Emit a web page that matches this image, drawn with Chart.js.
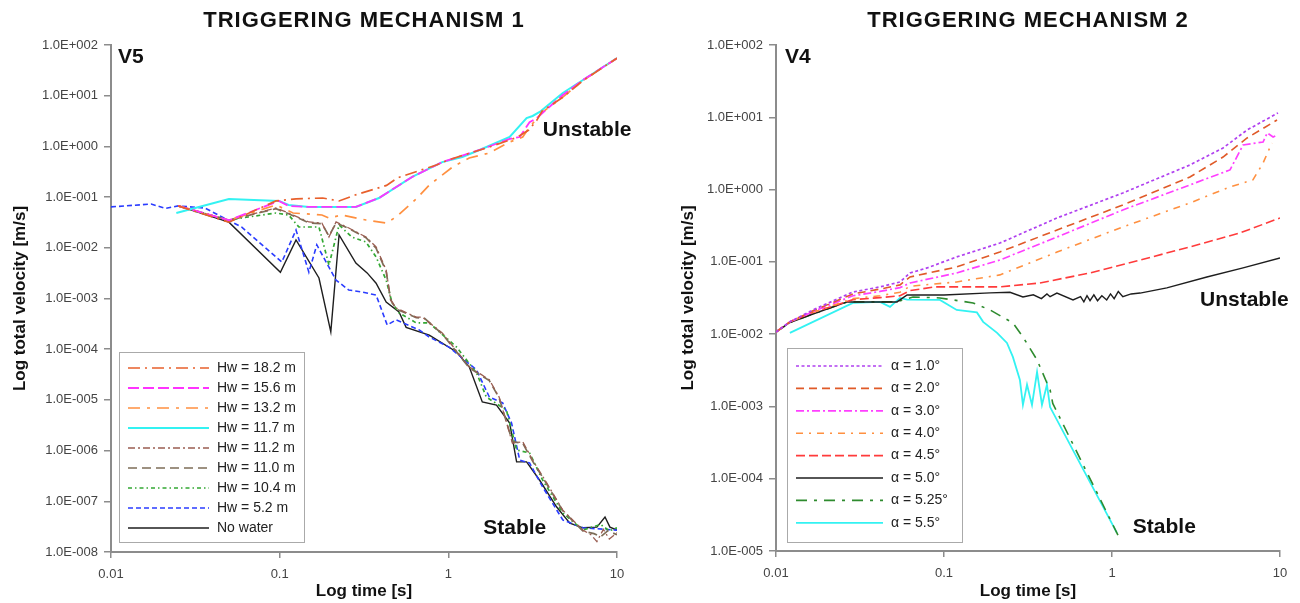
<!DOCTYPE html>
<html lang="en">
<head>
  <meta charset="UTF-8">
  <title>Triggering mechanisms</title>
  <script src="https://cdn.jsdelivr.net/npm/chart.js"></script>
  <style>
    body {
      margin: 0;
      background: #fff;
      font-family: Arial, "Liberation Sans", sans-serif;
    }
    .panel {
      position: absolute;
      top: 0;
      width: 650px;
      height: 603px;
    }
    #left { left: 0; }
    #right { left: 650px; }
  </style>
</head>
<body>
  <div class="panel" id="left"><canvas id="chart1"></canvas></div>
  <div class="panel" id="right"><canvas id="chart2"></canvas></div>

  <script>
    // ---- axis ticks ----
    const timeTicks = [0.01, 0.1, 1, 10];
    const timeLabels = ['0.01', '0.1', '1', '10'];
    const velTicks1 = [1e2, 1e1, 1e0, 1e-1, 1e-2, 1e-3, 1e-4, 1e-5, 1e-6, 1e-7, 1e-8];
    const velLabels1 = ['1.0E+002', '1.0E+001', '1.0E+000', '1.0E-001', '1.0E-002', '1.0E-003',
      '1.0E-004', '1.0E-005', '1.0E-006', '1.0E-007', '1.0E-008'];
    const velTicks2 = [1e2, 1e1, 1e0, 1e-1, 1e-2, 1e-3, 1e-4, 1e-5];
    const velLabels2 = ['1.0E+002', '1.0E+001', '1.0E+000', '1.0E-001', '1.0E-002', '1.0E-003',
      '1.0E-004', '1.0E-005'];

    // ---- mechanism 1 (V5), water level Hw ----
    const hw182Time = [0.025, 0.05, 0.095, 0.125, 0.18, 0.225, 0.28, 0.43, 0.5, 0.85, 1.0, 1.75, 2.55, 3.0, 3.35, 3.6, 4.8, 6.3, 10];
    const hw182Vel = [0.067, 0.032, 0.084, 0.092, 0.096, 0.084, 0.11, 0.17, 0.24, 0.43, 0.54, 0.97, 1.5, 2.1, 3.3, 5.0, 9.4, 20, 55];

    const hw156Time = [0.025, 0.05, 0.099, 0.113, 0.149, 0.283, 0.388, 0.61, 0.92, 1.53, 2.31, 2.65, 3.03, 3.34, 4.77, 6.28, 10];
    const hw156Vel = [0.067, 0.035, 0.084, 0.067, 0.064, 0.064, 0.096, 0.25, 0.49, 0.85, 1.4, 1.53, 3.0, 3.6, 10.3, 20.4, 55];

    const hw132Time = [0.025, 0.05, 0.095, 0.12, 0.178, 0.196, 0.234, 0.325, 0.428, 0.49, 0.645, 0.771, 1.06, 1.33, 1.75, 2.31, 2.76, 3.03, 3.63, 4.77, 6.28, 10];
    const hw132Vel = [0.067, 0.035, 0.070, 0.0485, 0.0444, 0.0387, 0.0444, 0.0353, 0.0308, 0.0405, 0.092, 0.173, 0.393, 0.59, 0.74, 1.22, 1.53, 2.41, 4.78, 9.4, 20, 55];

    const hw117Time = [0.0244, 0.05, 0.099, 0.113, 0.149, 0.283, 0.388, 0.61, 0.92, 1.21, 1.53, 2.31, 2.91, 3.16, 3.48, 4.77, 6.28, 10];
    const hw117Vel = [0.0485, 0.092, 0.084, 0.070, 0.064, 0.064, 0.096, 0.25, 0.49, 0.62, 0.85, 1.53, 3.63, 3.98, 4.78, 11.3, 20.4, 55];

    const hw112Time = [0.025, 0.05, 0.095, 0.113, 0.149, 0.178, 0.196, 0.216, 0.257, 0.325, 0.373, 0.428, 0.455, 0.49, 0.645, 0.70, 0.92, 1.33, 1.75, 2.0, 2.4, 2.76, 3.16, 3.83, 4.77, 6.28, 7.0, 7.6, 8.3, 9.0, 10];
    const hw112Vel = [0.067, 0.035, 0.061, 0.0485, 0.0323, 0.0308, 0.0163, 0.0323, 0.0246, 0.0163, 0.0104, 0.00365, 0.00093, 0.00065, 0.00043, 0.00043, 0.00021, 4.5e-5, 2.5e-5, 1.14e-5, 1.4e-6, 1.5e-6, 6.5e-7, 2.3e-7, 6.7e-8, 2.7e-8, 2.2e-8, 1.6e-8, 2.8e-8, 1.8e-8, 2.4e-8];

    const hw110Time = [0.025, 0.05, 0.095, 0.113, 0.149, 0.178, 0.196, 0.216, 0.257, 0.325, 0.373, 0.428, 0.455, 0.49, 0.645, 0.72, 0.92, 1.33, 1.75, 2.0, 2.4, 2.76, 3.16, 3.83, 4.77, 6.28, 7.3, 8.0, 8.8, 10];
    const hw110Vel = [0.067, 0.035, 0.059, 0.047, 0.031, 0.030, 0.017, 0.031, 0.024, 0.0158, 0.0098, 0.0034, 0.00095, 0.00062, 0.00042, 0.00041, 0.00020, 4.3e-5, 2.4e-5, 1.1e-5, 1.5e-6, 1.4e-6, 6.2e-7, 2.2e-7, 6.5e-8, 2.6e-8, 2.3e-8, 2.0e-8, 2.6e-8, 2.2e-8];

    const hw104Time = [0.025, 0.05, 0.065, 0.095, 0.113, 0.13, 0.171, 0.196, 0.225, 0.268, 0.325, 0.373, 0.428, 0.464, 0.51, 0.645, 0.77, 1.12, 1.47, 1.68, 2.21, 2.54, 3.03, 3.63, 4.77, 6.28, 8.0, 9.0, 10];
    const hw104Vel = [0.067, 0.035, 0.0405, 0.0485, 0.0444, 0.0257, 0.0257, 0.00458, 0.0282, 0.0163, 0.0130, 0.0066, 0.0023, 0.00082, 0.00052, 0.00033, 0.00033, 0.00011, 3.4e-5, 1.14e-5, 6.3e-6, 1.03e-6, 9.0e-7, 2.6e-7, 5.9e-8, 2.7e-8, 3.5e-8, 2.6e-8, 3.0e-8];

    const hw52Time = [0.01, 0.0173, 0.021, 0.025, 0.036, 0.0594, 0.103, 0.125, 0.149, 0.166, 0.216, 0.257, 0.308, 0.373, 0.434, 0.49, 0.672, 0.77, 1.01, 1.47, 1.75, 2.1, 2.37, 2.65, 3.03, 3.63, 4.77, 6.28, 10];
    const hw52Vel = [0.064, 0.073, 0.060, 0.067, 0.061, 0.0257, 0.00525, 0.0225, 0.0033, 0.0114, 0.0023, 0.00147, 0.00134, 0.00117, 0.00030, 0.00038, 0.00024, 0.000174, 0.00011, 3.9e-5, 1.14e-5, 8.7e-6, 3.5e-6, 6.5e-7, 5.7e-7, 1.9e-7, 4.3e-8, 3.0e-8, 2.7e-8];

    const noWaterTime = [0.025, 0.05, 0.101, 0.125, 0.171, 0.201, 0.225, 0.283, 0.33, 0.373, 0.428, 0.51, 0.562, 0.771, 1.12, 1.33, 1.59, 1.93, 2.31, 2.54, 2.91, 3.48, 4.39, 5.25, 6.28, 7.6, 8.49, 9.08, 10];
    const noWaterVel = [0.067, 0.032, 0.0033, 0.0143, 0.00254, 0.00022, 0.018, 0.0050, 0.0032, 0.0020, 0.00085, 0.00054, 0.00027, 0.00019, 8.8e-5, 4.5e-5, 9.1e-6, 7.9e-6, 3.5e-6, 6.0e-7, 6.0e-7, 2.6e-7, 7.7e-8, 3.7e-8, 3.0e-8, 3.1e-8, 4.9e-8, 3.1e-8, 2.7e-8];

    // ---- mechanism 2 (V4), slope angle alpha ----
    const a10Time = [0.01, 0.0121, 0.0166, 0.0287, 0.0416, 0.0547, 0.0628, 0.0793, 0.119, 0.215, 0.471, 1.16, 2.91, 4.58, 6.37, 9.73];
    const a10Vel = [0.0107, 0.0148, 0.0216, 0.0383, 0.045, 0.0527, 0.0702, 0.0824, 0.117, 0.182, 0.405, 0.897, 2.19, 3.76, 6.67, 11.5];

    const a20Time = [0.01, 0.0121, 0.0166, 0.0287, 0.0416, 0.0547, 0.0628, 0.119, 0.215, 0.471, 1.16, 2.91, 4.58, 6.37, 9.6];
    const a20Vel = [0.0107, 0.0148, 0.0210, 0.036, 0.042, 0.048, 0.0618, 0.085, 0.137, 0.276, 0.612, 1.49, 2.82, 5.17, 9.18];

    const a30Time = [0.01, 0.0121, 0.0166, 0.0287, 0.0416, 0.0547, 0.0628, 0.119, 0.215, 0.471, 1.16, 2.91, 5.04, 6.03, 7.93, 8.4, 9.1, 9.5];
    const a30Vel = [0.0107, 0.0148, 0.0205, 0.034, 0.039, 0.044, 0.051, 0.0702, 0.106, 0.221, 0.522, 1.16, 1.87, 4.14, 4.55, 6.07, 5.35, 5.6];

    const a40Time = [0.01, 0.0121, 0.0166, 0.0287, 0.0416, 0.0547, 0.0628, 0.119, 0.215, 0.471, 1.16, 2.91, 5.04, 6.9, 7.93, 8.95];
    const a40Vel = [0.0107, 0.0148, 0.020, 0.031, 0.034, 0.038, 0.046, 0.0527, 0.066, 0.137, 0.304, 0.653, 1.09, 1.36, 2.33, 4.41];

    const a45Time = [0.01, 0.0121, 0.0166, 0.0287, 0.0416, 0.0547, 0.0628, 0.0875, 0.215, 0.372, 0.74, 1.47, 2.91, 5.78, 10];
    const a45Vel = [0.0107, 0.0148, 0.020, 0.030, 0.032, 0.034, 0.040, 0.045, 0.045, 0.051, 0.0702, 0.106, 0.161, 0.251, 0.405];

    const a50Time = [0.01, 0.0121, 0.0166, 0.0265, 0.0525, 0.0603, 0.1, 0.188, 0.247, 0.295, 0.34, 0.38, 0.41, 0.428, 0.47, 0.586, 0.65, 0.68, 0.71, 0.74, 0.78, 0.82, 0.87, 0.93, 0.98, 1.03, 1.09, 1.16, 1.3, 1.47, 2.12, 3.67, 6.03, 10];
    const a50Vel = [0.0107, 0.0145, 0.019, 0.0279, 0.0279, 0.0348, 0.0348, 0.0372, 0.038, 0.0327, 0.035, 0.031, 0.036, 0.033, 0.037, 0.0297, 0.033, 0.028, 0.034, 0.029, 0.035, 0.029, 0.034, 0.0297, 0.036, 0.031, 0.039, 0.033, 0.036, 0.037, 0.0436, 0.0618, 0.0824, 0.113];

    const a525Time = [0.01, 0.0121, 0.0166, 0.0265, 0.0525, 0.0654, 0.0946, 0.149, 0.188, 0.257, 0.295, 0.358, 0.41, 0.428, 0.444, 1.12];
    const a525Vel = [0.0107, 0.0145, 0.019, 0.0279, 0.028, 0.0327, 0.0317, 0.027, 0.0216, 0.0143, 0.00915, 0.0044, 0.00211, 0.0017, 0.0011, 1.43e-5];

    const a55Time = [0.0121, 0.0287, 0.0416, 0.0477, 0.0547, 0.0603, 0.0946, 0.119, 0.157, 0.171, 0.207, 0.237, 0.257, 0.283, 0.295, 0.312, 0.334, 0.358, 0.383, 0.41, 0.428, 1.07];
    const a55Vel = [0.0104, 0.027, 0.0279, 0.0238, 0.0317, 0.030, 0.0297, 0.0216, 0.020, 0.0148, 0.0104, 0.00755, 0.00484, 0.00233, 0.00105, 0.0020, 0.00105, 0.0030, 0.00105, 0.0020, 0.00098, 1.78e-5];

    const FONT = 'Arial, "Liberation Sans", sans-serif';
    Chart.defaults.font.family = FONT;

    function pts(t, v) {
      return t.map((x, i) => ({ x: x, y: v[i] }));
    }

    function series(label, t, v, color, dash, width) {
      return {
        label: label,
        data: pts(t, v),
        borderColor: color,
        backgroundColor: color,
        borderDash: dash,
        borderWidth: width,
        pointRadius: 0,
        tension: 0,
        fill: false
      };
    }

    // draws panel title, labels and the boxed legend
    const panelDecor = {
      id: 'panelDecor',
      afterDraw(chart, args, opts) {
        const ctx = chart.ctx;
        const area = chart.chartArea;
        const xs = chart.scales.x;
        const ys = chart.scales.y;
        ctx.save();
        ctx.fillStyle = '#111';
        ctx.textBaseline = 'middle';

        ctx.font = 'bold 22px ' + FONT;
        ctx.textAlign = 'center';
        if ('letterSpacing' in ctx) ctx.letterSpacing = '1px';
        ctx.fillText(opts.title, (area.left + area.right) / 2, 21);
        if ('letterSpacing' in ctx) ctx.letterSpacing = '0px';

        ctx.textAlign = 'left';
        opts.notes.forEach(n => {
          ctx.font = 'bold ' + n.size + 'px ' + FONT;
          ctx.fillText(n.text, xs.getPixelForValue(n.t), ys.getPixelForValue(n.v));
        });

        const lg = opts.legend;
        const bx = area.left + lg.dx;
        const by = area.top + lg.dy;
        ctx.fillStyle = '#fff';
        ctx.fillRect(bx, by, lg.w, lg.h);
        ctx.strokeStyle = '#aaa';
        ctx.lineWidth = 1;
        ctx.strokeRect(bx + 0.5, by + 0.5, lg.w, lg.h);
        ctx.font = '14px ' + FONT;
        chart.data.datasets.forEach((ds, i) => {
          const y = by + lg.first + i * lg.row;
          ctx.strokeStyle = ds.borderColor;
          ctx.lineWidth = ds.borderWidth;
          ctx.setLineDash(ds.borderDash);
          ctx.beginPath();
          ctx.moveTo(bx + 9, y);
          ctx.lineTo(bx + lg.line, y);
          ctx.stroke();
          ctx.setLineDash([]);
          ctx.fillStyle = '#222';
          ctx.fillText(ds.label, bx + lg.text, y);
        });
        ctx.restore();
      }
    };

    function makeChart(id, datasets, velTicks, velLabels, yWidth, yTitlePad, decor) {
      const axisColor = '#8c8c8c';
      return new Chart(document.getElementById(id), {
        type: 'line',
        data: { datasets: datasets },
        plugins: [panelDecor],
        options: {
          responsive: true,
          maintainAspectRatio: false,
          animation: false,
          layout: { padding: { top: 45, right: decor.padRight, bottom: 0, left: 0 } },
          plugins: {
            legend: { display: false },
            tooltip: { enabled: false },
            panelDecor: decor
          },
          scales: {
            x: {
              type: 'logarithmic',
              min: 0.01,
              max: 10,
              afterBuildTicks: s => { s.ticks = timeTicks.map(v => ({ value: v })); },
              afterFit: s => { s.height = decor.xHeight; },
              ticks: {
                autoSkip: false,
                maxRotation: 0,
                padding: 9,
                color: '#444',
                font: { size: 13 },
                callback: v => timeLabels[timeTicks.indexOf(v)]
              },
              grid: { display: true, drawOnChartArea: false, tickLength: 6, color: axisColor, lineWidth: 1.5 },
              border: { display: true, color: axisColor, width: 2 },
              title: {
                display: true,
                text: 'Log time [s]',
                color: '#111',
                font: { size: 17, weight: 'bold' },
                padding: { top: 0, bottom: 1 }
              }
            },
            y: {
              type: 'logarithmic',
              min: velTicks[velTicks.length - 1],
              max: velTicks[0],
              afterBuildTicks: s => { s.ticks = velTicks.map(v => ({ value: v })); },
              afterFit: s => { s.width = yWidth; },
              ticks: {
                autoSkip: false,
                padding: 6,
                color: '#444',
                font: { size: 13 },
                callback: v => velLabels[velTicks.indexOf(v)]
              },
              grid: { display: true, drawOnChartArea: false, tickLength: 7, color: axisColor, lineWidth: 1.5 },
              border: { display: true, color: axisColor, width: 2 },
              title: {
                display: true,
                text: 'Log total velocity [m/s]',
                color: '#111',
                font: { size: 17, weight: 'bold' },
                padding: { top: yTitlePad, bottom: 0 }
              }
            }
          }
        }
      });
    }

    makeChart('chart1', [
      series('Hw = 18.2 m', hw182Time, hw182Vel, '#e8602c', [12, 5, 2, 5], 1.7),
      series('Hw = 15.6 m', hw156Time, hw156Vel, '#ff33ff', [11, 4], 1.8),
      series('Hw = 13.2 m', hw132Time, hw132Vel, '#ff9040', [12, 7, 3, 7], 1.7),
      series('Hw = 11.7 m', hw117Time, hw117Vel, '#33f2f2', [], 2),
      series('Hw = 11.2 m', hw112Time, hw112Vel, '#9a5e52', [7, 3, 2, 3], 1.3),
      series('Hw = 11.0 m', hw110Time, hw110Vel, '#7d6e58', [9, 5], 1.7),
      series('Hw = 10.4 m', hw104Time, hw104Vel, '#33a833', [4, 3, 1.5, 3], 1.7),
      series('Hw = 5.2 m', hw52Time, hw52Vel, '#2a3cff', [5, 3], 1.6),
      series('No water', noWaterTime, noWaterVel, '#1e1e1e', [], 1.4)
    ], velTicks1, velLabels1, 111, 10, {
      title: 'TRIGGERING MECHANISM 1',
      padRight: 33,
      xHeight: 51,
      notes: [
        { text: 'V5', t: 0.011, v: 58, size: 21 },
        { text: 'Unstable', t: 3.63, v: 2.1, size: 21 },
        { text: 'Stable', t: 1.61, v: 3.0e-8, size: 21 }
      ],
      legend: { dx: 8, dy: 307, w: 185, h: 190, first: 16, row: 20, line: 90, text: 98 }
    });

    makeChart('chart2', [
      series('\u03b1 = 1.0\u00b0', a10Time, a10Vel, '#b040f0', [3, 2.5], 1.7),
      series('\u03b1 = 2.0\u00b0', a20Time, a20Vel, '#e05a28', [8, 5], 1.6),
      series('\u03b1 = 3.0\u00b0', a30Time, a30Vel, '#ff40ff', [8, 3, 2, 3], 1.7),
      series('\u03b1 = 4.0\u00b0', a40Time, a40Vel, '#ff9040', [7, 6, 2, 6], 1.6),
      series('\u03b1 = 4.5\u00b0', a45Time, a45Vel, '#ff3b3b', [9, 4], 1.6),
      series('\u03b1 = 5.0\u00b0', a50Time, a50Vel, '#1e1e1e', [], 1.4),
      series('\u03b1 = 5.25\u00b0', a525Time, a525Vel, '#2e8b2e', [11, 7, 3, 7], 1.6),
      series('\u03b1 = 5.5\u00b0', a55Time, a55Vel, '#33f2f2', [], 1.8)
    ], velTicks2, velLabels2, 126, 28, {
      title: 'TRIGGERING MECHANISM 2',
      padRight: 20,
      xHeight: 52,
      notes: [
        { text: 'V4', t: 0.0113, v: 68, size: 21 },
        { text: 'Unstable', t: 3.34, v: 0.0297, size: 21 },
        { text: 'Stable', t: 1.33, v: 2.15e-5, size: 21 }
      ],
      legend: { dx: 11, dy: 303, w: 175, h: 194, first: 18, row: 22.4, line: 96, text: 104 }
    });
  </script>
</body>
</html>
